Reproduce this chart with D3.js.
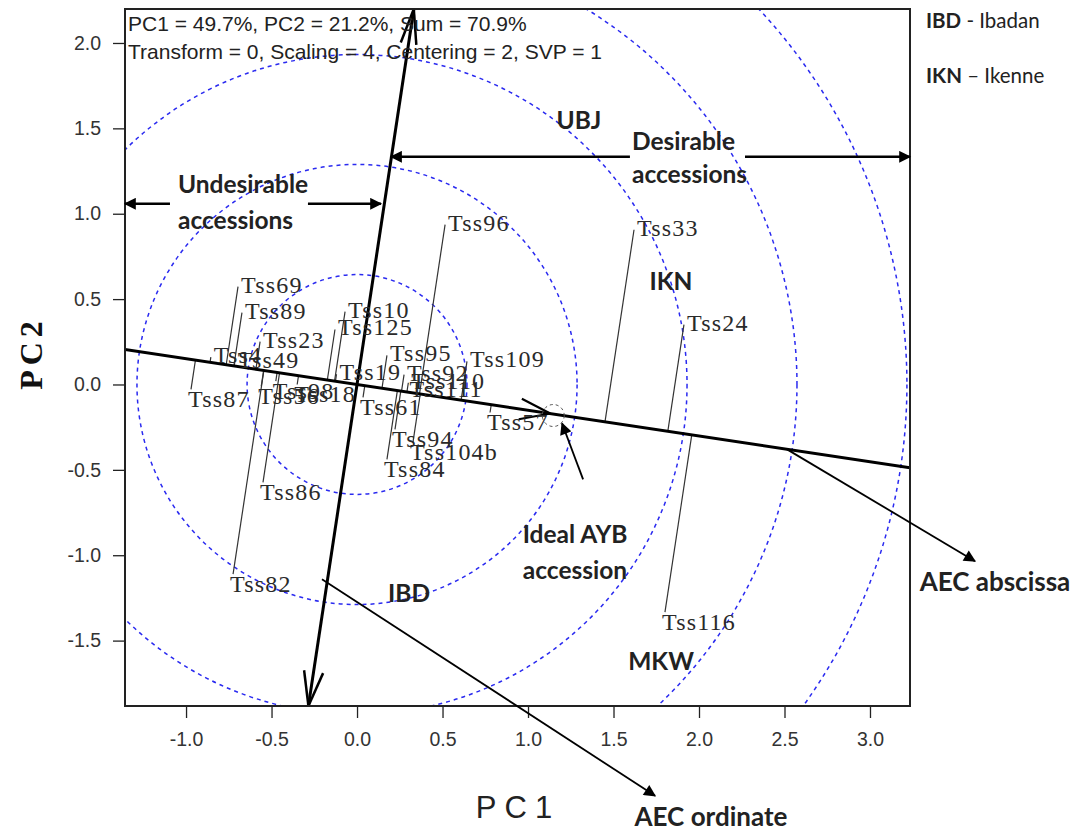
<!DOCTYPE html>
<html><head><meta charset="utf-8">
<script src="https://cdn.jsdelivr.net/npm/d3@7"></script>
<style>body{margin:0;background:#fff}svg{display:block}</style>
</head><body>
<svg id="c" width="1073" height="832"></svg>
<script>
// ---- data ----
const genotypes = ["Tss96","Tss33","Tss24","Tss116","Tss82","Tss86","Tss87","Tss69","Tss89","Tss23","Tss10","Tss125","Tss95","Tss109","Tss92","Tss61","Tss94","Tss104b","Tss84","Tss57","Tss4","Tss49","Tss56","Tss98","Tss18","Tss19","Tss110","Tss111"];
const pc1 = [0.515,1.620,1.912,1.801,-0.725,-0.550,-0.971,-0.696,-0.673,-0.567,-0.070,-0.129,0.175,0.643,0.275,0.035,0.222,0.327,0.175,0.778,-0.855,-0.715,-0.560,-0.475,-0.350,-0.120,0.300,0.290];
const pc2 = [0.936,0.906,0.351,-1.333,-1.111,-0.573,-0.029,0.573,0.421,0.251,0.427,0.322,0.170,0.135,0.058,-0.076,-0.263,-0.339,-0.439,-0.164,0.160,0.130,-0.010,0.020,0.000,0.060,0.010,-0.040];
const envNames = ["UBJ","IKN","IBD","MKW"];
const envPC1 = [1.298,1.836,0.304,1.778];
const envPC2 = [1.544,0.602,-1.222,-1.620];
const xTicks = [-1.0,-0.5,0.0,0.5,1.0,1.5,2.0,2.5,3.0];
const yTicks = [-1.5,-1.0,-0.5,0.0,0.5,1.0,1.5,2.0];
const circleRadii = [0.643,1.287,1.930,2.573,3.216];
const aecSlope = -0.151;          // AEC abscissa direction (1, slope)
const idealPoint = [1.13,-0.17];
const headerLines = ["PC1 = 49.7%, PC2 = 21.2%, Sum = 70.9%","Transform = 0, Scaling = 4, Centering = 2, SVP = 1"];
const legendAbbr = ["IBD","IKN"];
const legendFull = [" - Ibadan"," \u2013 Ikenne"];

// ---- layout ----
const svg = d3.select("#c");
const L=125,R=910,T=9,B=706;
const x = d3.scaleLinear().domain([-1.357,3.234]).range([L,R]);
const y = d3.scaleLinear().domain([-1.883,2.199]).range([B,T]);

const defs = svg.append("defs");
defs.append("clipPath").attr("id","clip").append("rect").attr("x",L).attr("y",T).attr("width",R-L).attr("height",B-T);
defs.append("marker").attr("id","ah").attr("viewBox","0 0 10 10").attr("refX",9).attr("refY",5)
  .attr("markerWidth",14).attr("markerHeight",12).attr("markerUnits","userSpaceOnUse").attr("orient","auto")
  .append("path").attr("d","M0,0L10,5L0,10Z").attr("fill","#000");

// axes
const xAxis = d3.axisBottom(x).tickValues(xTicks).tickFormat(d=>d.toFixed(1)).tickSize(12).tickPadding(14);
const yAxis = d3.axisLeft(y).tickValues(yTicks).tickFormat(d=>d.toFixed(1)).tickSize(12).tickPadding(12);
const gx = svg.append("g").attr("transform",`translate(0,${B})`).call(xAxis);
const gy = svg.append("g").attr("transform",`translate(${L},0)`).call(yAxis);
[gx,gy].forEach(g=>{
  g.select(".domain").remove();
  g.selectAll("line").attr("stroke","#222").attr("stroke-width",1.3);
  g.selectAll("text").attr("font-family","'Liberation Sans',Arial,sans-serif").attr("font-size",19.5).attr("fill","#333");
});

const plot = svg.append("g").attr("clip-path","url(#clip)");

// concentric circles
plot.selectAll("circle.ring").data(circleRadii).join("circle").attr("class","ring")
  .attr("cx",x(0)).attr("cy",y(0)).attr("r",d=>x(d)-x(0))
  .attr("fill","none").attr("stroke","#2a2af0").attr("stroke-width",1.5).attr("stroke-dasharray","4,4");

// projection lines
const ux = 1/Math.hypot(1,aecSlope), uy = aecSlope/Math.hypot(1,aecSlope);
const G = genotypes.map((g,i)=>{const d=pc1[i]*ux+pc2[i]*uy; return {name:g,px:pc1[i],py:pc2[i],fx:d*ux,fy:d*uy};});
plot.selectAll("line.proj").data(G).join("line").attr("class","proj")
  .attr("x1",d=>x(d.px)).attr("y1",d=>y(d.py)).attr("x2",d=>x(d.fx)).attr("y2",d=>y(d.fy))
  .attr("stroke","#333").attr("stroke-width",1.2);

// AEC abscissa & ordinate
const xd = x.domain(), yd = y.domain();
plot.append("line").attr("x1",x(xd[0])).attr("y1",y(xd[0]*aecSlope)).attr("x2",x(xd[1])).attr("y2",y(xd[1]*aecSlope))
  .attr("stroke","#000").attr("stroke-width",3);
plot.append("line").attr("x1",x(-yd[0]*aecSlope)).attr("y1",y(yd[0])).attr("x2",x(-yd[1]*aecSlope)).attr("y2",y(yd[1]))
  .attr("stroke","#000").attr("stroke-width",3);

// open arrowheads (ordinate ends and ideal)
function openHead(tipX,tipY,dirX,dirY,len,ang,w){
  const a=Math.atan2(dirY,dirX);
  [ang,-ang].forEach(s=>{
    plot.append("line").attr("x1",tipX).attr("y1",tipY)
      .attr("x2",tipX-len*Math.cos(a+s)).attr("y2",tipY-len*Math.sin(a+s))
      .attr("stroke","#000").attr("stroke-width",w);
  });
}
{
  const ox = x(-yd[1]*aecSlope)-x(-yd[0]*aecSlope), oy = y(yd[1])-y(yd[0]);
  openHead(x(-yd[0]*aecSlope),y(yd[0]),-ox,-oy,36,0.27,2.5);
  openHead(x(-yd[1]*aecSlope),y(yd[1]),ox,oy,36,0.22,2.5);
  const ax = x(1)-x(0), ay = y(aecSlope)-y(0);
  openHead(x(idealPoint[0]),y(idealPoint[1]),ax,ay,32,0.33,2.2);
}
plot.append("circle").attr("cx",x(idealPoint[0])+3).attr("cy",y(idealPoint[1])+2).attr("r",11)
  .attr("fill","none").attr("stroke","#555").attr("stroke-width",1).attr("stroke-dasharray","3,3");

// genotype labels
plot.selectAll("text.gen").data(G).join("text").attr("class","gen")
  .attr("x",d=> d.py>d.fy ? x(d.px)+3 : x(d.px)-3)
  .attr("y",d=> d.py>d.fy ? y(d.py)+6 : y(d.py)+18)
  .attr("font-family","'Liberation Serif','Times New Roman',serif").attr("font-size",24).attr("letter-spacing",1.2)
  .attr("fill","#2a2a2a").text(d=>d.name);

// environment labels
const annFont = "Lato,'Open Sans',sans-serif";
svg.selectAll("text.env").data(envNames).join("text").attr("class","env")
  .attr("x",(d,i)=>x(envPC1[i])).attr("y",(d,i)=>y(envPC2[i])).attr("text-anchor","middle").attr("dy","0.35em")
  .attr("font-family",annFont).attr("font-weight","bold").attr("font-size",24.5).attr("fill","#222")
  .text(d=>d);

// frame
svg.append("rect").attr("x",L).attr("y",T).attr("width",R-L).attr("height",B-T)
  .attr("fill","none").attr("stroke","#222").attr("stroke-width",2);

// header
svg.selectAll("text.hdr").data(headerLines).join("text").attr("class","hdr")
  .attr("x",L+3).attr("y",(d,i)=>31+i*28)
  .attr("font-family","'Liberation Sans',Arial,sans-serif").attr("font-size",21).attr("fill","#222").text(d=>d);

// annotations
function arrow(x1,y1,x2,y2,w){
  svg.append("line").attr("x1",x(x1)).attr("y1",y(y1)).attr("x2",x(x2)).attr("y2",y(y2))
    .attr("stroke","#000").attr("stroke-width",w||2).attr("marker-end","url(#ah)");
}
function ann(lines,cx,cy,dy,size,anchor){
  lines.forEach((t,i)=>svg.append("text").attr("x",x(cx)).attr("y",y(cy)+i*dy).attr("text-anchor",anchor||"middle")
    .attr("dy","0.35em").attr("font-family",annFont).attr("font-weight","bold").attr("font-size",size||24.5).attr("fill","#222").text(t));
}
// desirable
arrow(1.596,1.333,0.199,1.333,2.5);
arrow(2.269,1.333,3.234,1.333,2.5);
ann(["Desirable","accessions"],1.608,1.421,33,24.5,"start");
// undesirable
arrow(-1.094,1.058,-1.357,1.058,2.5);
arrow(-0.287,1.058,0.140,1.058,2.5);
ann(["Undesirable","accessions"],-1.047,1.170,36,24.5,"start");
// ideal
arrow(1.322,-0.556,1.199,-0.228,1.8);
ann(["Ideal AYB","accession"],1.275,-0.877,36);
// AEC abscissa / ordinate
arrow(2.515,-0.380,3.614,-1.035,1.8);
ann(["AEC abscissa"],3.731,-1.158,0,26);
arrow(-0.205,-1.140,1.743,-2.409,1.8);
ann(["AEC ordinate"],2.07,-2.532,0,26);

// axis titles
svg.append("text").attr("x",518).attr("y",818).attr("text-anchor","middle")
  .attr("font-family","'Liberation Sans',Arial,sans-serif").attr("font-size",31).attr("letter-spacing",8).attr("fill","#222").text("PC1");
svg.append("text").attr("transform","translate(42,353) rotate(-90)").attr("text-anchor","middle")
  .attr("font-family","'Liberation Serif','Times New Roman',serif").attr("font-weight","bold").attr("font-size",32).attr("letter-spacing",5).attr("fill","#111").text("PC2");

// legend
legendAbbr.forEach((a,i)=>{
  const t = svg.append("text").attr("x",926).attr("y",28+i*55).attr("font-family",annFont).attr("font-size",20.5).attr("fill","#222");
  t.append("tspan").attr("font-weight","bold").text(a);
  t.append("tspan").text(legendFull[i]);
});
</script>
</body></html>
